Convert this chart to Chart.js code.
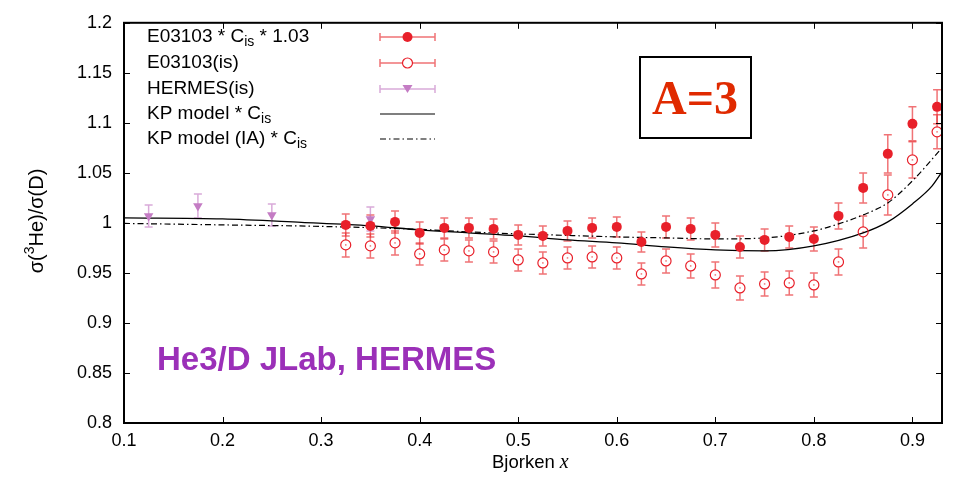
<!DOCTYPE html>
<html>
<head>
<meta charset="utf-8">
<script src="https://cdn.jsdelivr.net/npm/chart.js@4.4.1/dist/chart.umd.min.js"></script>
<style>
html, body { margin: 0; padding: 0; background: #fff; }
</style>
</head>
<body>
<canvas id="ratioChart" width="954" height="485"></canvas>
<script>
'use strict';

// E03103 data (x bins)
const xE03103 = [0.325, 0.35, 0.375, 0.4, 0.425, 0.45, 0.475, 0.5, 0.525, 0.55, 0.575, 0.6, 0.625,
                 0.65, 0.675, 0.7, 0.725, 0.75, 0.775, 0.8, 0.825, 0.85, 0.875, 0.9, 0.925];
const yScaled = [0.998, 0.997, 1.001, 0.990, 0.995, 0.995, 0.994, 0.988, 0.987, 0.992, 0.995, 0.996, 0.981,
                 0.996, 0.994, 0.988, 0.976, 0.983, 0.986, 0.984, 1.007, 1.035, 1.069, 1.099, 1.116];
const errScaled = [0.011, 0.011, 0.011, 0.011, 0.010, 0.010, 0.010, 0.010, 0.010, 0.010, 0.010, 0.010, 0.010,
                   0.011, 0.011, 0.012, 0.011, 0.011, 0.011, 0.012, 0.013, 0.015, 0.019, 0.017, 0.017];
const yIso = [0.978, 0.977, 0.980, 0.969, 0.973, 0.972, 0.971, 0.963, 0.960, 0.965, 0.966, 0.965, 0.949,
              0.962, 0.957, 0.948, 0.935, 0.939, 0.940, 0.938, 0.961, 0.991, 1.028, 1.063, 1.091];
const errIso = [0.012, 0.012, 0.012, 0.011, 0.011, 0.011, 0.011, 0.011, 0.011, 0.011, 0.011, 0.011, 0.011,
                0.012, 0.012, 0.013, 0.012, 0.012, 0.012, 0.012, 0.013, 0.016, 0.020, 0.018, 0.017];

// HERMES
const xHermes = [0.125, 0.175, 0.25, 0.35];
const yHermes = [1.007, 1.017, 1.008, 1.004];
const errHermes = [0.011, 0.012, 0.011, 0.012];

// KP model curves
const xKP = [0.1, 0.2, 0.28, 0.35, 0.4, 0.45, 0.5, 0.55, 0.6, 0.65, 0.7, 0.75, 0.8, 0.85, 0.875, 0.9, 0.92, 0.93];
const yKP = [1.005, 1.004, 1.0005, 0.997, 0.993, 0.990, 0.987, 0.983, 0.980, 0.976, 0.973, 0.972, 0.977, 0.990, 1.001, 1.019, 1.037, 1.051];
const xKPIA = [0.1, 0.2, 0.3, 0.4, 0.45, 0.5, 0.55, 0.6, 0.65, 0.7, 0.75, 0.8, 0.825, 0.85, 0.875, 0.9, 0.93];
const yKPIA = [0.9995, 0.998, 0.9965, 0.9935, 0.991, 0.989, 0.9875, 0.986, 0.985, 0.984, 0.985, 0.992, 0.999, 1.008, 1.020, 1.042, 1.075];

const xTicks = [0.1, 0.2, 0.3, 0.4, 0.5, 0.6, 0.7, 0.8, 0.9];
const yTicks = [0.8, 0.85, 0.9, 0.95, 1, 1.05, 1.1, 1.15, 1.2];

const RED = '#e8202a';
const RED_BAR = 'rgba(232,40,44,0.65)';
const PURPLE = '#c47cc4';
const PURPLE_BAR = 'rgba(196,124,196,0.65)';
const FONT = '"Liberation Sans", Arial, sans-serif';

const toPts = (xs, ys) => xs.map((x, i) => ({x: x, y: ys[i]}));

// vertical error bars under the markers
const errorBars = {
    id: 'errorBars',
    beforeDatasetsDraw(chart) {
        const ctx = chart.ctx;
        const ys = chart.scales.y;
        chart.data.datasets.forEach((ds, i) => {
            if (!ds.errors) return;
            const meta = chart.getDatasetMeta(i);
            ctx.save();
            ctx.strokeStyle = ds.barColor;
            ctx.lineWidth = 1.5;
            meta.data.forEach((el, j) => {
                const v = ds.data[j].y, e = ds.errors[j];
                const top = ys.getPixelForValue(v + e);
                const bot = ys.getPixelForValue(v - e);
                const gap = ds.hollow ? 5 : 0;
                ctx.beginPath();
                ctx.moveTo(el.x, top); ctx.lineTo(el.x, el.y - gap);
                ctx.moveTo(el.x, el.y + gap); ctx.lineTo(el.x, bot);
                ctx.moveTo(el.x - 4, top); ctx.lineTo(el.x + 4, top);
                ctx.moveTo(el.x - 4, bot); ctx.lineTo(el.x + 4, bot);
                ctx.stroke();
                if (ds.hollow) {
                    ctx.fillStyle = ds.barColor;
                    ctx.fillRect(el.x - 0.75, el.y - 0.75, 1.5, 1.5);
                }
            });
            ctx.restore();
        });
    }
};

// draws text pieces with sub/superscripts, returns end x
function richText(ctx, parts, x, y, size) {
    parts.forEach(p => {
        if (p[1] === 'sub') {
            ctx.font = Math.round(size * 0.74) + 'px ' + FONT;
            ctx.fillText(p[0], x, y + 5);
        } else if (p[1] === 'sup') {
            ctx.font = Math.round(size * 0.7) + 'px ' + FONT;
            ctx.fillText(p[0], x, y - 7);
        } else {
            ctx.font = size + 'px ' + FONT;
            ctx.fillText(p[0], x, y);
        }
        x += ctx.measureText(p[0]).width;
    });
    return x;
}

const decorations = {
    id: 'decorations',
    afterDraw(chart) {
        const ctx = chart.ctx;
        const a = chart.chartArea;
        const xs = chart.scales.x, ys = chart.scales.y;
        ctx.save();

        // inward ticks on all four sides
        ctx.strokeStyle = '#000';
        ctx.lineWidth = 1;
        ctx.beginPath();
        xTicks.forEach(v => {
            const px = Math.round(xs.getPixelForValue(v)) + 0.5;
            ctx.moveTo(px, a.bottom); ctx.lineTo(px, a.bottom - 6);
            ctx.moveTo(px, a.top); ctx.lineTo(px, a.top + 6);
        });
        yTicks.forEach(v => {
            const py = Math.round(ys.getPixelForValue(v)) + 0.5;
            ctx.moveTo(a.left, py); ctx.lineTo(a.left + 6, py);
            ctx.moveTo(a.right, py); ctx.lineTo(a.right - 6, py);
        });
        ctx.stroke();

        // frame
        ctx.lineWidth = 2;
        ctx.strokeRect(a.left, a.top, a.right - a.left, a.bottom - a.top);

        // legend
        const rows = [
            {parts: [['E03103 * C', 'n'], ['is', 'sub'], [' * 1.03', 'n']], kind: 'filled'},
            {parts: [['E03103(is)', 'n']], kind: 'open'},
            {parts: [['HERMES(is)', 'n']], kind: 'tri'},
            {parts: [['KP model * C', 'n'], ['is', 'sub']], kind: 'solid'},
            {parts: [['KP model (IA) * C', 'n'], ['is', 'sub']], kind: 'dashdot'}
        ];
        const rowY = [37, 63, 89, 114, 139];
        ctx.textBaseline = 'middle';
        ctx.textAlign = 'left';
        rows.forEach((r, i) => {
            const y = rowY[i];
            ctx.fillStyle = '#000';
            richText(ctx, r.parts, 147, y, 19);
            const x0 = 380, x1 = 435, xm = 407.5;
            if (r.kind === 'solid' || r.kind === 'dashdot') {
                ctx.strokeStyle = '#000';
                ctx.lineWidth = 1.2;
                ctx.setLineDash(r.kind === 'dashdot' ? [6, 3, 1.5, 3] : []);
                ctx.beginPath(); ctx.moveTo(x0, y); ctx.lineTo(x1, y); ctx.stroke();
                ctx.setLineDash([]);
                return;
            }
            const bar = r.kind === 'tri' ? PURPLE_BAR : RED_BAR;
            ctx.strokeStyle = bar;
            ctx.lineWidth = 1.5;
            ctx.beginPath();
            ctx.moveTo(x0, y); ctx.lineTo(x1, y);
            ctx.moveTo(x0, y - 4); ctx.lineTo(x0, y + 4);
            ctx.moveTo(x1, y - 4); ctx.lineTo(x1, y + 4);
            ctx.stroke();
            if (r.kind === 'filled') {
                ctx.fillStyle = RED;
                ctx.beginPath(); ctx.arc(xm, y, 5, 0, Math.PI * 2); ctx.fill();
            } else if (r.kind === 'open') {
                ctx.fillStyle = '#fff';
                ctx.strokeStyle = RED;
                ctx.lineWidth = 1.2;
                ctx.beginPath(); ctx.arc(xm, y, 5, 0, Math.PI * 2); ctx.fill(); ctx.stroke();
            } else {
                ctx.fillStyle = PURPLE;
                ctx.beginPath();
                ctx.moveTo(xm - 5, y - 4); ctx.lineTo(xm + 5, y - 4); ctx.lineTo(xm, y + 4);
                ctx.closePath(); ctx.fill();
            }
        });

        // A=3 box
        ctx.lineWidth = 2;
        ctx.strokeStyle = '#000';
        ctx.strokeRect(640, 57, 111, 81);
        ctx.fillStyle = '#e02a00';
        ctx.font = 'bold 48px "Liberation Serif", "Times New Roman", serif';
        ctx.textAlign = 'center';
        ctx.textBaseline = 'alphabetic';
        ctx.fillText('A=3', 695, 114);

        // He3/D label
        ctx.fillStyle = '#9b30b8';
        ctx.font = 'bold 33px ' + FONT;
        ctx.textAlign = 'left';
        ctx.textBaseline = 'middle';
        ctx.fillText('He3/D JLab, HERMES', 157, 361);

        // x axis title
        ctx.fillStyle = '#000';
        ctx.textBaseline = 'alphabetic';
        ctx.font = '18.5px ' + FONT;
        const w1 = ctx.measureText('Bjorken ').width;
        ctx.fillText('Bjorken ', 492, 468);
        ctx.font = 'italic 20px "Liberation Serif", serif';
        ctx.fillText('x', 492 + w1, 468);

        // y axis title
        ctx.translate(37, 221);
        ctx.rotate(-Math.PI / 2);
        ctx.textBaseline = 'middle';
        const yParts = [['σ(', 'n'], ['3', 'sup'], ['He)/σ(D)', 'n']];
        let wTot = 0;
        yParts.forEach(p => {
            ctx.font = (p[1] === 'sup' ? '14px ' : '20px ') + FONT;
            wTot += ctx.measureText(p[0]).width;
        });
        richText(ctx, yParts, -wTot / 2, 0, 20);
        ctx.restore();
    }
};

const fmt = v => String(+v.toFixed(2));

new Chart(document.getElementById('ratioChart'), {
    type: 'scatter',
    data: {
        datasets: [
            {
                label: 'E03103 * Cis * 1.03',
                data: toPts(xE03103, yScaled),
                errors: errScaled,
                barColor: RED_BAR,
                pointStyle: 'circle',
                pointRadius: 5,
                backgroundColor: RED,
                borderColor: RED,
                borderWidth: 0,
                order: 1
            },
            {
                label: 'E03103(is)',
                data: toPts(xE03103, yIso),
                errors: errIso,
                barColor: RED_BAR,
                hollow: true,
                pointStyle: 'circle',
                pointRadius: 5,
                backgroundColor: 'rgba(255,255,255,0)',
                borderColor: RED,
                borderWidth: 1.2,
                order: 2
            },
            {
                label: 'HERMES(is)',
                data: toPts(xHermes, yHermes),
                errors: errHermes,
                barColor: PURPLE_BAR,
                pointStyle: 'triangle',
                rotation: 180,
                pointRadius: 5.5,
                backgroundColor: PURPLE,
                borderColor: PURPLE,
                borderWidth: 0,
                order: 3
            },
            {
                type: 'line',
                label: 'KP model * Cis',
                data: toPts(xKP, yKP),
                borderColor: '#000',
                borderWidth: 1.3,
                pointRadius: 0,
                cubicInterpolationMode: 'monotone',
                fill: false,
                order: 4
            },
            {
                type: 'line',
                label: 'KP model (IA) * Cis',
                data: toPts(xKPIA, yKPIA),
                borderColor: '#000',
                borderWidth: 1.2,
                borderDash: [6, 3, 1.5, 3],
                pointRadius: 0,
                cubicInterpolationMode: 'monotone',
                fill: false,
                order: 5
            }
        ]
    },
    options: {
        responsive: false,
        animation: false,
        devicePixelRatio: 1,
        layout: {padding: {top: 21, right: 12, left: 0, bottom: 0}},
        plugins: {
            legend: {display: false},
            tooltip: {enabled: false}
        },
        scales: {
            x: {
                type: 'linear',
                min: 0.1,
                max: 0.93,
                grid: {display: false, drawTicks: false},
                border: {display: false},
                afterBuildTicks: s => { s.ticks = xTicks.map(v => ({value: v})); },
                afterFit: s => { s.height = 62; },
                ticks: {
                    padding: 7,
                    color: '#000',
                    font: {family: FONT, size: 18},
                    callback: fmt,
                    maxRotation: 0
                }
            },
            y: {
                type: 'linear',
                min: 0.8,
                max: 1.2,
                grid: {display: false, drawTicks: false},
                border: {display: false},
                afterBuildTicks: s => { s.ticks = yTicks.map(v => ({value: v})); },
                afterFit: s => { s.width = 124; },
                ticks: {
                    padding: 12,
                    color: '#000',
                    font: {family: FONT, size: 18},
                    callback: fmt
                }
            }
        }
    },
    plugins: [errorBars, decorations]
});
</script>
</body>
</html>
